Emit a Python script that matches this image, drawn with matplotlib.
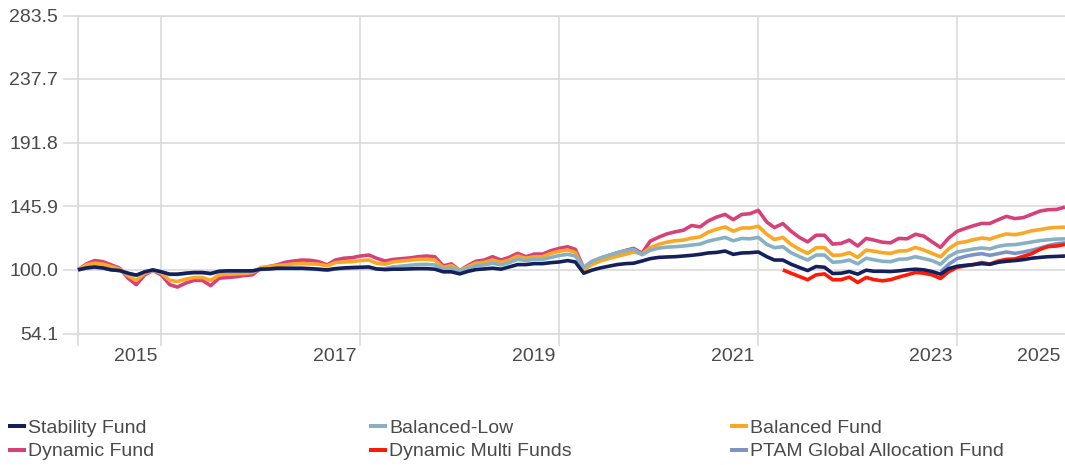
import matplotlib
matplotlib.use('Agg')
import matplotlib.pyplot as plt
import matplotlib.transforms as mtransforms
from matplotlib.lines import Line2D
import pandas as pd

# ---------------- data ----------------
start_month = '2014-03-01'
multi_start = '2021-04-01'
ptam_start = '2022-11-01'

stability = [100.0, 101.4, 102.1, 101.4, 100.0, 99.5, 97.6, 96.2, 98.6, 100.0,
             98.6, 96.9, 96.9, 97.6, 98.1, 98.1, 97.4, 99.0, 99.3, 99.3,
             99.3, 99.3, 100.5, 100.7, 101.2, 101.2, 101.2, 101.2, 100.9, 100.5,
             100.0, 100.9, 101.4, 101.7, 101.9, 102.1, 100.7, 100.2, 100.5, 100.5,
             100.7, 100.9, 100.9, 100.5, 98.6, 98.6, 97.1, 99.0, 100.2, 100.7,
             101.2, 100.5, 102.1, 103.8, 103.8, 104.5, 104.5, 105.2, 105.7, 106.7,
             105.7, 97.6, 99.8, 101.4, 102.6, 103.8, 104.5, 104.8, 106.4, 108.1,
             109.0, 109.3, 109.5, 110.0, 110.5, 111.2, 112.2, 112.6, 113.6, 111.2,
             112.2, 112.4, 112.9, 109.5, 107.1, 107.1, 104.1, 101.7, 99.5, 102.4,
             101.9, 97.4, 97.6, 98.8, 96.9, 99.8, 99.0, 99.0, 98.8, 99.3,
             100.0, 100.5, 100.0, 98.8, 96.9, 100.9, 102.6, 103.3, 103.8, 104.5,
             104.0, 105.5, 106.2, 106.7, 107.4, 108.4, 109.0, 109.5, 109.7, 110.0]

balanced_low = [100.0, 101.2, 101.8, 101.2, 100.0, 99.4, 97.4, 96.0, 98.4, 99.8,
                98.4, 96.7, 96.7, 97.4, 97.9, 97.9, 97.2, 98.8, 99.1, 99.1,
                99.1, 99.2, 100.3, 100.5, 100.9, 100.9, 100.9, 100.9, 100.6, 100.2,
                99.7, 100.6, 101.0, 101.3, 101.5, 101.7, 100.5, 100.8, 102.2, 102.7,
                103.3, 103.9, 104.0, 103.6, 100.5, 101.2, 99.3, 101.2, 102.9, 103.6,
                104.8, 103.6, 105.2, 107.6, 106.7, 107.6, 107.6, 109.0, 110.4, 111.2,
                110.0, 101.9, 106.2, 108.6, 110.5, 112.2, 113.8, 114.8, 110.9, 114.1,
                115.7, 116.4, 116.7, 117.2, 117.9, 118.6, 120.7, 122.1, 123.4, 121.0,
                122.7, 122.4, 123.4, 118.4, 116.0, 116.7, 112.4, 109.5, 107.1, 110.7,
                110.7, 105.5, 105.9, 107.1, 104.3, 108.4, 107.3, 106.2, 105.9, 107.6,
                107.9, 109.5, 108.1, 106.7, 104.0, 109.6, 112.9, 114.0, 115.0, 115.8,
                115.1, 117.0, 118.0, 118.2, 119.1, 120.1, 121.1, 121.7, 122.2, 122.4]

balanced = [100.0, 103.6, 104.8, 104.1, 102.4, 100.5, 95.7, 92.4, 97.6, 99.5,
            97.6, 92.4, 91.7, 93.3, 94.5, 94.5, 92.4, 96.4, 96.9, 97.1,
            97.4, 98.1, 101.7, 102.4, 103.1, 103.6, 104.3, 104.5, 104.3, 104.1,
            102.9, 105.2, 105.7, 105.9, 106.7, 107.1, 104.8, 104.1, 105.7, 106.4,
            106.9, 107.6, 107.6, 107.1, 101.7, 103.1, 99.5, 102.4, 104.8, 105.5,
            107.1, 105.5, 107.1, 110.0, 108.4, 109.5, 109.5, 111.9, 113.5, 114.3,
            112.6, 100.0, 103.8, 106.4, 108.1, 109.8, 111.2, 112.9, 111.5, 116.0,
            118.4, 120.0, 121.0, 121.5, 122.9, 123.8, 127.2, 129.3, 131.0, 127.9,
            130.2, 130.2, 131.5, 125.7, 121.9, 123.4, 118.4, 114.8, 111.9, 116.0,
            116.0, 110.5, 110.7, 112.4, 109.0, 114.3, 113.5, 112.4, 111.9, 113.6,
            113.8, 116.2, 114.3, 111.9, 109.4, 115.2, 119.3, 120.3, 121.7, 123.0,
            122.2, 124.3, 125.9, 125.4, 126.5, 128.2, 129.0, 130.1, 130.6, 130.8]

dynamic = [100.0, 104.3, 106.7, 105.9, 103.6, 101.2, 94.0, 89.3, 96.4, 99.5,
           96.4, 89.3, 87.6, 90.5, 92.4, 92.4, 88.6, 94.0, 94.5, 95.0,
           95.9, 96.4, 101.2, 102.4, 103.6, 105.5, 106.4, 107.1, 106.9, 105.9,
           103.6, 107.1, 108.4, 108.8, 110.0, 110.7, 108.4, 106.4, 107.5, 108.1,
           108.6, 109.5, 110.0, 109.5, 102.9, 104.3, 99.5, 103.3, 106.2, 107.1,
           109.5, 107.1, 109.0, 111.9, 109.5, 111.4, 111.4, 113.8, 115.5, 116.7,
           114.8, 101.2, 105.5, 108.3, 110.3, 112.3, 114.0, 115.5, 112.0, 120.7,
           123.6, 126.0, 127.4, 128.6, 132.0, 131.0, 135.3, 138.1, 140.0, 136.2,
           140.0, 140.5, 142.9, 134.5, 130.5, 133.4, 127.9, 123.4, 120.2, 125.0,
           125.0, 118.6, 119.1, 121.5, 117.2, 122.7, 121.5, 120.0, 119.5, 122.7,
           122.4, 125.7, 124.3, 120.2, 116.2, 123.0, 127.8, 130.0, 131.8, 133.5,
           133.5, 136.2, 138.6, 137.0, 137.7, 140.0, 142.4, 143.4, 143.6, 145.3]

dynamic_multi = [100.0, 97.6, 95.2, 92.9, 96.4, 97.1, 92.9, 92.9, 94.8, 90.9,
                 94.5, 93.0, 92.1, 92.9, 94.8, 96.4, 98.1, 97.6, 96.4, 93.8,
                 98.7, 101.8, 102.9, 103.8, 105.3, 104.2, 106.4, 107.6, 107.9, 109.8,
                 111.6, 114.8, 116.8, 117.2, 118.4]

ptam = [98.5, 104.0, 108.1, 109.8, 110.9, 111.7, 110.5, 111.7, 112.9, 111.9,
        112.9, 114.1, 115.7, 117.5, 118.8, 119.5]

series_names = ['Stability Fund', 'Balanced-Low', 'Balanced Fund',
                'Dynamic Fund', 'Dynamic Multi Funds', 'PTAM Global Allocation Fund']
series_colors = ['#13205c', '#87b0c2', '#fba726', '#d6417a', '#ff1a05', '#7c94c4']

ytick_labels = ['54.1', '100.0', '145.9', '191.8', '237.7', '283.5']
year_grid = ['2015-01-01', '2017-01-01', '2019-01-01', '2021-01-01', '2023-01-01']
year_labels = ['2015', '2017', '2019', '2021', '2023', '2025']

# ---------------- figure ----------------
plt.rcParams['font.family'] = ['Liberation Sans', 'DejaVu Sans']
W, H, DPI = 1065, 465, 100
PX = 72.0 / DPI  # points per pixel
text_color = '#4a4a4a'
grid_color = '#d9d9d9'

fig = plt.figure(figsize=(W / DPI, H / DPI), dpi=DPI)
ax = fig.add_axes([78 / W, (H - 333.5) / H, 987 / W, 318 / H])

months = pd.date_range(start_month, periods=len(stability), freq='MS')
multi_months = pd.date_range(multi_start, periods=len(dynamic_multi), freq='MS')
ptam_months = pd.date_range(ptam_start, periods=len(ptam), freq='MS')

data = [(months, stability), (months, balanced_low), (months, balanced),
        (months, dynamic), (multi_months, dynamic_multi), (ptam_months, ptam)]
zorders = [8, 7, 6, 5, 4, 3]
for (xs, ys), c, z, name in zip(data, series_colors, zorders, series_names):
    ax.plot(xs, ys, color=c, lw=3.6 * PX, zorder=z, label=name,
            solid_joinstyle='round', solid_capstyle='butt', clip_on=False)

yticks = [float(v) for v in ytick_labels]
ax.set_ylim(yticks[0], yticks[-1])
ax.set_xlim(months[0], months[-1])

ax.set_yticks(yticks)
ax.set_yticklabels(ytick_labels)
ax.tick_params(axis='y', length=15 * PX, width=1.6 * PX, color=grid_color, pad=5 * PX,
               labelsize=14, labelcolor=text_color, direction='out')
ax.yaxis.grid(True, color=grid_color, lw=1.6 * PX, zorder=0)

ax.xaxis.remove_overlapping_locs = False
grid_dates = [months[0]] + [pd.Timestamp(d) for d in year_grid]
ax.set_xticks(grid_dates, minor=True)
label_dates = [pd.Timestamp(d) for d in year_grid] + [months[-1]]
ax.set_xticks(label_dates)
ax.set_xticklabels(year_labels)
ax.tick_params(axis='x', which='minor', length=12 * PX, width=1.6 * PX, color=grid_color,
               direction='out')
ax.tick_params(axis='x', which='major', length=0, pad=14 * PX, labelsize=14,
               labelcolor=text_color)
ax.grid(True, axis='x', which='minor', color=grid_color, lw=1.6 * PX)
ax.grid(False, axis='x', which='major')
ax.set_axisbelow(True)

shift = mtransforms.ScaledTranslation(-26 / DPI, 0, fig.dpi_scale_trans)
for lab in ax.get_xticklabels():
    lab.set_transform(lab.get_transform() + shift)

ax.spines['right'].set_visible(False)
for side in ['left', 'top', 'bottom']:
    ax.spines[side].set_color(grid_color)
    ax.spines[side].set_linewidth(1.6 * PX)

# ---------------- legend (three columns, row-major order) ----------------
handles = [Line2D([], [], color=c, lw=4 * PX, solid_capstyle='butt') for c in series_colors]
columns = [(8, [0, 3]), (369, [1, 4]), (730, [2, 5])]
for x0, idx in columns:
    fig.legend([handles[i] for i in idx], [series_names[i] for i in idx],
               loc='upper left', bbox_to_anchor=(x0 / W, (H - 419) / H),
               frameon=False, fontsize=14, handlelength=0.9, handletextpad=0.15,
               borderpad=0, borderaxespad=0, labelspacing=0.32,
               labelcolor=text_color)

fig.savefig('out.png', dpi=DPI)
